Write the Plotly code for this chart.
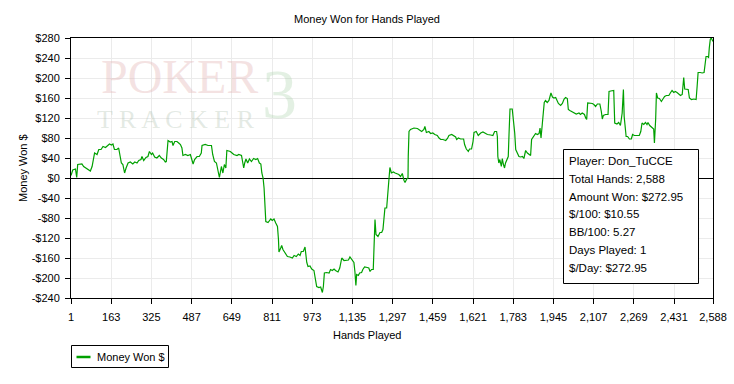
import plotly.graph_objects as go

# ---- data ----
hands = [1,5,8,19,24,28,45,52,65,79,86,96,106,113,122,130,140,146,156,164,170,176,186,193,197,204,210,217,223,231,240,250,258,267,274,283,287,294,303,311,317,325,330,338,347,357,365,374,381,385,392,401,408,412,419,428,435,442,448,452,462,472,482,488,493,499,509,518,526,529,542,553,567,572,579,587,593,599,607,613,619,625,629,643,650,657,670,677,688,693,697,701,706,713,720,728,737,746,753,760,766,770,
         775,779,783,786,795,802,806,812,819,826,833,837,839,846,850,855,863,873,883,893,900,909,917,924,929,937,944,947,951,956,964,971,980,984,991,1000,1007,1014,1018,1022,1031,1041,1047,1054,1061,1067,1077,1084,1088,1092,1101,1112,1119,1125,1135,1141,1145,1149,1152,1159,1164,1172,1177,1184,1195,1201,1206,1212,1219,1222,1226,1230,1238,1246,1253,1258,1262,1266,1273,1276,1280,1282,1286,1292,1300,1307,1316,1322,1329,1336,1343,1347,1354,1359,1360,1363,
         1369,1383,1397,1406,1414,1423,1427,1433,1443,1450,1459,1467,1477,1484,1491,1500,1511,1518,1524,1535,1544,1551,1555,1562,1571,1583,1587,1594,1602,1607,1615,1621,1625,1634,1642,1652,1661,1669,1679,1692,1701,1708,1716,1719,1721,1725,1729,1735,1739,1743,1748,1752,1759,1763,1766,1770,1779,1783,1789,1793,1800,1806,1813,1820,1826,1833,1840,1847,1853,1857,1864,1873,1880,1887,1891,1895,1900,1904,1908,1913,1920,1927,1930,1935,1941,1947,1954,
         1965,1974,1981,1988,1994,2001,2005,2011,2021,2032,2037,2048,2054,2061,2070,2075,2079,2083,2095,2102,2108,2115,2122,2132,2138,2142,2146,2155,2165,2169,2176,2181,2188,2192,2201,2208,2215,2222,2227,2230,2235,2238,2244,2251,2259,2264,2271,2282,2291,2297,2302,2309,2316,2322,2326,2333,2342,2349,2352,2355,2357,2360,2365,2372,2380,2385,2393,2400,2410,2416,2423,2430,2436,2443,2450,2457,2464,2470,2474,2481,2488,2493,2501,2511,2520,2524,2528,2537,2544,2552,2557,2560,2568,2570,2573,2577,2581,2588]

money_won = [5,10,16,18,1,27,28,23,18,14,23,50,47,57,57,63,61,63,68,66,68,57,57,60,47,30,27,10,20,30,32,28,32,30,35,37,43,35,41,43,53,47,50,42,40,45,40,37,32,33,75,72,73,65,73,73,70,67,60,45,47,45,47,38,28,37,43,43,50,65,67,65,65,47,33,30,17,1,23,10,27,20,55,53,50,47,45,47,45,33,20,30,38,30,38,33,39,37,39,30,28,10,
             0,-20,-57,-87,-89,-85,-82,-85,-82,-90,-97,-123,-148,-140,-135,-143,-150,-157,-158,-160,-155,-157,-152,-155,-147,-147,-138,-155,-169,-177,-176,-182,-185,-197,-217,-219,-218,-229,-217,-190,-189,-190,-183,-185,-182,-185,-188,-180,-170,-160,-165,-165,-164,-158,-165,-169,-187,-215,-193,-195,-190,-189,-183,-178,-179,-180,-187,-183,-183,-133,-83,-113,-117,-109,-109,-103,-80,-60,-60,-43,-20,-3,21,10,12,10,8,7,3,9,-5,-9,-2,0,43,93,
             97,100,99,95,93,97,103,91,93,89,90,87,85,80,77,77,75,79,85,87,85,82,77,80,78,78,67,58,53,58,58,73,91,93,85,90,92,90,87,86,85,93,93,83,43,30,37,23,39,28,20,30,40,43,87,138,138,120,90,57,47,43,42,43,39,55,50,47,45,77,82,89,87,89,100,80,107,137,151,155,151,155,162,170,162,160,161,
             149,145,149,158,161,159,137,135,132,130,128,130,127,130,127,120,117,150,150,149,147,143,148,148,133,118,125,127,127,173,174,175,175,110,108,111,105,130,177,123,103,83,83,78,78,87,85,85,85,93,110,107,111,107,111,105,101,98,70,97,118,170,160,159,153,157,163,165,165,170,175,171,173,171,167,165,167,201,178,178,177,160,157,158,157,183,211,211,210,211,227,243,243,240,260,277,280,273]

x_tick_vals = [1,163,325,487,649,811,973,1135,1297,1459,1621,1783,1945,2107,2269,2431,2588]
x_tick_text = ["1","163","325","487","649","811","973","1,135","1,297","1,459","1,621","1,783","1,945","2,107","2,269","2,431","2,588"]
y_tick_vals = [280,240,200,160,120,80,40,0,-40,-80,-120,-160,-200,-240]
y_tick_text = ["$280","$240","$200","$160","$120","$80","$40","$0","-$40","-$80","-$120","-$160","-$200","-$240"]

chart_title = "Money Won for Hands Played"
x_title = "Hands Played"
y_title = "Money Won $"
series_name = "Money Won $"
info_lines = ["Player: Don_TuCCE", "Total Hands: 2,588", "Amount Won: $272.95",
              "$/100: $10.55", "BB/100: 5.27", "Days Played: 1", "$/Day: $272.95"]

FONT = "Liberation Sans"
GREEN = "#00a000"

fig = go.Figure()
fig.add_trace(go.Scatter(x=hands, y=money_won, mode="lines", name=series_name,
                         line=dict(color=GREEN, width=1.2), showlegend=False))

W, H = 734, 384
ml, mr, mt, mb = 71, 21, 38, 86
pw, ph = W - ml - mr, H - mt - mb

def px_x(x):
    return (x - ml) / pw

def px_y(y):
    return (H - mb - y) / ph

def note(text, x, y, size, color="black", family=FONT, xanchor="center", angle=0):
    return dict(text=text, x=px_x(x), y=px_y(y), xref="paper", yref="paper",
                xanchor=xanchor, yanchor="middle", showarrow=False, textangle=angle,
                font=dict(family=family, size=size, color=color))

annotations = [
    # watermark
    note("POKER", 179, 76, 48, "rgba(226,180,180,0.38)", "Liberation Serif"),
    note("T R A C K E R", 176, 119, 26, "rgba(170,190,170,0.33)", "Liberation Serif"),
    note("3", 279, 94, 70, "rgba(170,210,170,0.33)", "Liberation Serif"),
    # axis titles
    note(x_title, 367, 335, 11),
    note(y_title, 23, 168, 11, angle=-90),
    # legend text
    note(series_name, 95, 356.5, 11, xanchor="left"),
]
line_ys = [161, 178.5, 196.5, 214, 232, 250, 268]
for t, ly in zip(info_lines, line_ys):
    annotations.append(note(t, 567, ly, 11.5, xanchor="left"))

shapes = [
    dict(type="rect", xref="paper", yref="paper", x0=px_x(563.5), x1=px_x(698.5),
         y0=px_y(283.5), y1=px_y(149.5), line=dict(color="black", width=1),
         fillcolor="white", layer="above"),
    # legend box and sample line
    dict(type="rect", xref="paper", yref="paper", x0=px_x(71.5), x1=px_x(168.5),
         y0=px_y(367.5), y1=px_y(345.5), line=dict(color="black", width=1),
         fillcolor="white", layer="above"),
    dict(type="line", xref="paper", yref="paper", x0=px_x(76.5), x1=px_x(90.5),
         y0=px_y(357), y1=px_y(357), line=dict(color=GREEN, width=2.5), layer="above"),
]

fig.update_layout(
    width=W, height=H, autosize=False,
    margin=dict(l=ml, r=mr, t=mt, b=mb, pad=0, autoexpand=False),
    paper_bgcolor="white", plot_bgcolor="white",
    title=dict(text=chart_title, x=0.5, xref="container", xanchor="center",
               y=1 - 19 / H, yref="container", yanchor="middle",
               font=dict(family=FONT, size=11, color="black")),
    font=dict(family=FONT, size=11, color="black"),
    xaxis=dict(range=[1, 2588], tickvals=x_tick_vals, ticktext=x_tick_text,
               showgrid=True, gridcolor="#ebebeb", gridwidth=1,
               showline=True, linecolor="black", linewidth=1, mirror=True,
               ticks="outside", ticklen=5, tickcolor="black", zeroline=False,
               automargin=False,
               tickfont=dict(family=FONT, size=11, color="black"), ticklabelstandoff=4),
    yaxis=dict(range=[-240, 280], tickvals=y_tick_vals, ticktext=y_tick_text,
               showgrid=True, gridcolor="#ebebeb", gridwidth=1,
               showline=True, linecolor="black", linewidth=1, mirror=True,
               ticks="outside", ticklen=5, tickcolor="black",
               zeroline=True, zerolinecolor="black", zerolinewidth=1,
               automargin=False,
               tickfont=dict(family=FONT, size=11, color="black"), ticklabelstandoff=3),
    showlegend=False,
    annotations=annotations,
    shapes=shapes,
)

fig.write_html("out.html", config={"displayModeBar": False},
               post_script="document.body.style.margin='0';document.body.style.padding='0';")
